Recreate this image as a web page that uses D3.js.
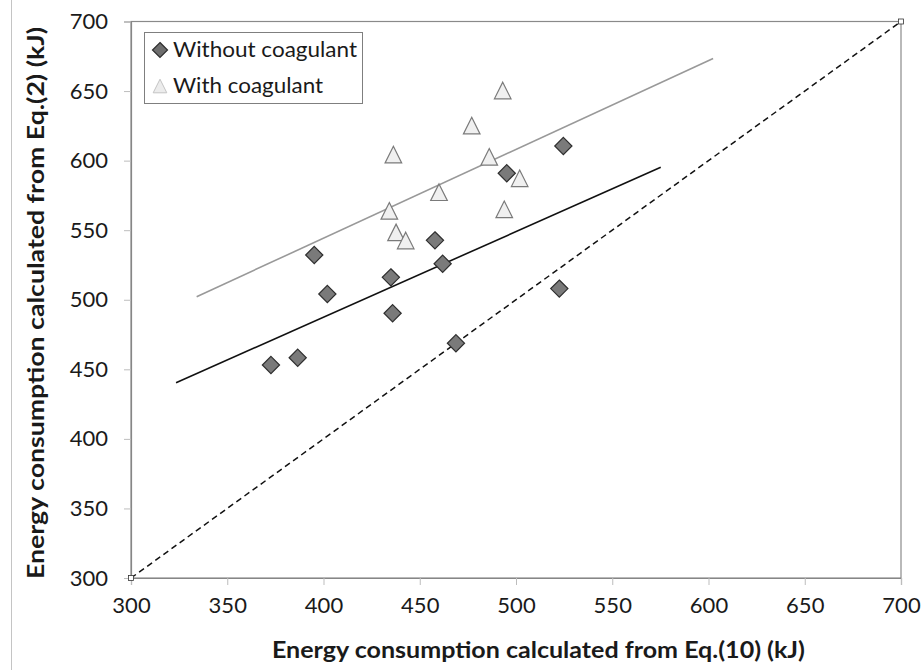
<!DOCTYPE html>
<html>
<head>
<meta charset="utf-8">
<script src="https://cdn.jsdelivr.net/npm/d3@7"></script>
<style>
  html, body { margin: 0; padding: 0; background: #fff; }
  svg { display: block; }
  text { font-family: Lato, "Open Sans", sans-serif; fill: #1a1a1a; }
</style>
</head>
<body>
<svg id="chart" width="922" height="670"></svg>
<script>
// Energy consumption: Eq.(10) estimate (x) vs Eq.(2) estimate (y)
const withoutX = [372.7, 386.6, 395.2, 402.0, 435.0, 435.9, 457.9, 461.9, 468.8, 495.2, 522.5, 524.6];
const withoutY = [453.1, 458.3, 532.2, 504.1, 516.1, 490.3, 542.7, 525.9, 468.7, 590.9, 508.0, 610.5];

const withX = [434.2, 436.3, 437.7, 442.7, 460.0, 477.0, 486.1, 493.1, 493.9, 501.9];
const withY = [563.9, 604.3, 548.4, 542.6, 577.3, 625.2, 602.7, 650.4, 565.0, 587.3];

// Linear trend lines (start and end points) and the 1:1 reference line
const trendWithoutX = [323.4, 575.2];
const trendWithoutY = [440.4, 595.2];
const trendWithX = [334.1, 602.4];
const trendWithY = [502.2, 673.4];
const identityX = [300, 700];
const identityY = [300, 700];

const tickValues = [300, 350, 400, 450, 500, 550, 600, 650, 700];
const seriesNames = ["Without coagulant", "With coagulant"];
const xTitle = "Energy consumption calculated from Eq.(10) (kJ)";
const yTitle = "Energy consumption calculated from Eq.(2) (kJ)";

const svg = d3.select("#chart");
const plotLeft = 131, plotRight = 901, plotTop = 21.5, plotBottom = 578;

const x = d3.scaleLinear().domain([300, 700]).range([plotLeft, plotRight]);
const y = d3.scaleLinear().domain([300, 700]).range([plotBottom, plotTop]);

// thin frame line at the far left of the figure
svg.append("line")
  .attr("x1", 11.5).attr("x2", 11.5).attr("y1", 0).attr("y2", 670)
  .attr("stroke", "#c4c4c4").attr("stroke-width", 1);

// plot area frame
svg.append("rect")
  .attr("x", plotLeft).attr("y", plotTop)
  .attr("width", plotRight - plotLeft).attr("height", plotBottom - plotTop)
  .attr("fill", "none").attr("stroke", "#8a8a8a").attr("stroke-width", 1.2);

// axes
const xAxis = d3.axisBottom(x).tickValues(tickValues).tickSize(7).tickPadding(12).tickFormat(d3.format("d"));
const yAxis = d3.axisLeft(y).tickValues(tickValues).tickSize(7).tickPadding(16).tickFormat(d3.format("d"));

const gx = svg.append("g").attr("transform", `translate(0,${plotBottom})`).call(xAxis);
const gy = svg.append("g").attr("transform", `translate(${plotLeft},0)`).call(yAxis);
[gx, gy].forEach(g => {
  g.select(".domain").attr("stroke", "#868686").attr("stroke-width", 1.2);
  g.selectAll(".tick line").attr("stroke", "#bdbdbd");
  g.selectAll(".tick text")
    .style("font-family", "Lato, 'Open Sans', sans-serif")
    .attr("font-size", 22).attr("fill", "#1a1a1a");
});

// axis titles
svg.append("text")
  .attr("x", 538.5).attr("y", 658)
  .attr("text-anchor", "middle")
  .attr("font-size", 23).attr("font-weight", "bold")
  .attr("textLength", 533).attr("lengthAdjust", "spacingAndGlyphs")
  .text(xTitle);

svg.append("text")
  .attr("transform", "translate(44,303) rotate(-90)")
  .attr("text-anchor", "middle")
  .attr("font-size", 23).attr("font-weight", "bold")
  .attr("textLength", 552).attr("lengthAdjust", "spacingAndGlyphs")
  .text(yTitle);

const line = d3.line().x(d => x(d[0])).y(d => y(d[1]));

// 1:1 line with small square end markers
const identity = d3.zip(identityX, identityY);
svg.append("path").datum(identity)
  .attr("d", line).attr("fill", "none")
  .attr("stroke", "#111").attr("stroke-width", 1.5).attr("stroke-dasharray", "6,4");
svg.append("g").selectAll("rect").data(identity).join("rect")
  .attr("x", d => x(d[0]) - 2.5).attr("y", d => y(d[1]) - 2.5)
  .attr("width", 5).attr("height", 5)
  .attr("fill", "#fff").attr("stroke", "#333").attr("stroke-width", 0.8);

// trend lines
svg.append("path").datum(d3.zip(trendWithX, trendWithY))
  .attr("d", line).attr("fill", "none")
  .attr("stroke", "#999").attr("stroke-width", 1.6);
svg.append("path").datum(d3.zip(trendWithoutX, trendWithoutY))
  .attr("d", line).attr("fill", "none")
  .attr("stroke", "#111").attr("stroke-width", 1.6);

// marker shapes
const diamond = r => `M0,${-r}L${r},0L0,${r}L${-r},0Z`;
const triangle = r => `M0,${-r}L${r},${r}L${-r},${r}Z`;

svg.append("g").selectAll("path").data(d3.zip(withX, withY)).join("path")
  .attr("transform", d => `translate(${x(d[0])},${y(d[1])})`)
  .attr("d", triangle(8.3))
  .attr("fill", "#f0f0f0").attr("stroke", "#7a7a7a").attr("stroke-width", 1.2);

svg.append("g").selectAll("path").data(d3.zip(withoutX, withoutY)).join("path")
  .attr("transform", d => `translate(${x(d[0])},${y(d[1])})`)
  .attr("d", diamond(8.6))
  .attr("fill", "#7a7a7a").attr("stroke", "#2e2e2e").attr("stroke-width", 1.2);

// legend
const lg = svg.append("g");
lg.append("rect")
  .attr("x", 144.5).attr("y", 32.5).attr("width", 218).attr("height", 71)
  .attr("fill", "#fff").attr("stroke", "#7f7f7f").attr("stroke-width", 1);
lg.append("path").attr("transform", "translate(160,50)")
  .attr("d", diamond(7.5))
  .attr("fill", "#6e6e6e").attr("stroke", "#2e2e2e").attr("stroke-width", 1.2);
lg.append("path").attr("transform", "translate(160,86)")
  .attr("d", triangle(6.8))
  .attr("fill", "#ececec").attr("stroke", "#c4c4c4").attr("stroke-width", 1);
lg.selectAll("text").data(seriesNames).join("text")
  .attr("x", 173).attr("y", (d, i) => 57 + i * 36)
  .attr("font-size", 21)
  .attr("textLength", (d, i) => i === 0 ? 184 : 150)
  .attr("lengthAdjust", "spacingAndGlyphs")
  .text(d => d);
</script>
</body>
</html>
